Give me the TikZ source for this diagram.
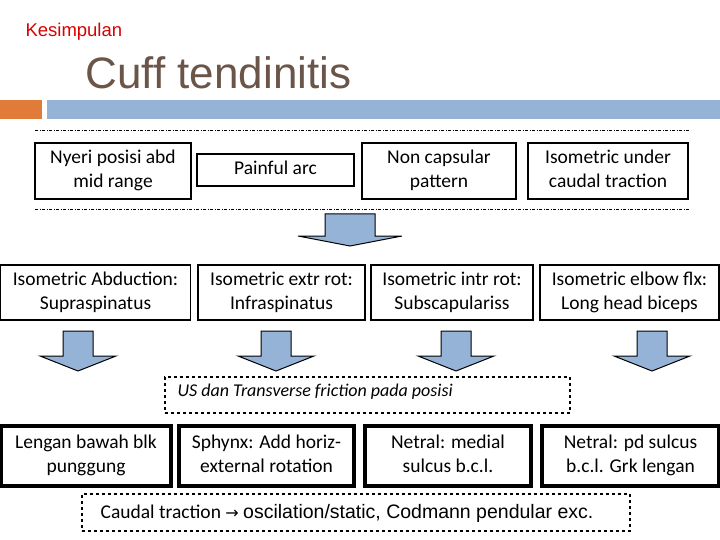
\documentclass[tikz,border=0pt]{standalone}
\usepackage{fontspec}
\setmainfont{Carlito}
\newfontfamily\arial{Liberation Sans}
\newfontfamily\dejavu{DejaVu Sans}
\begin{document}
\begin{tikzpicture}[x=1pt,y=-1pt,
  box/.style={draw=black,line width=1.5pt,align=center,font=\fontsize{19.5}{24}\selectfont,inner sep=0pt},
  tbox/.style={draw=black,line width=4pt,align=center,font=\fontsize{19.5}{24}\selectfont,inner sep=0pt},
  dbox/.style={draw=black,dashed,line width=1.2pt,inner sep=0pt},
  dline/.style={draw=black,dash pattern=on 3pt off 1.5pt on 1pt off 1.5pt,line width=1pt}]
\definecolor{arrfill}{HTML}{95B3D7}
\definecolor{orng}{HTML}{E07B39}
\definecolor{titlec}{HTML}{6B5548}
\useasboundingbox (0,0) rectangle (720,540);
\fill[white] (0,0) rectangle (720,540);
\node[anchor=west,text=red!85!black,font=\arial\fontsize{18.5}{20}\selectfont] (kes) at (22,32) {Kesimpulan};
\node[anchor=west,text=titlec,font=\arial\fontsize{44}{48}\selectfont] (title) at (82,73) {Cuff tendinitis};
\fill[orng] (0,100) rectangle (42,119);
\fill[arrfill] (47,100) rectangle (720,119);
\coordinate (l1a) at (35,131); \coordinate (l1b) at (690,131);
\coordinate (l2a) at (35,210); \coordinate (l2b) at (690,210);
\draw[dline] (l1a) -- (l1b);
\draw[dline] (l2a) -- (l2b);
% row 1
\node[box,minimum width=156pt,minimum height=56pt] (a1) at (113,171) {\strut Nyeri posisi abd\\\strut mid range};
\node[box,minimum width=157pt,minimum height=32pt] (a2) at (275.5,170) {\strut Painful arc};
\node[box,minimum width=154pt,minimum height=56pt] (a3) at (439,171) {\strut Non capsular\\\strut pattern};
\node[box,minimum width=160pt,minimum height=56pt] (a4) at (608,171) {\strut Isometric under\\\strut caudal traction};
% big arrow
\draw[fill=arrfill,draw=black,line width=1pt] (325,214) -- (375,214) -- (375,236) -- (402,236) -- (350,246) -- (298,236) -- (325,236) -- cycle;
% row 2
\node[box,minimum width=190pt,minimum height=55pt] (b1) at (95.5,292.5) {\strut Isometric Abduction:\\\strut Supraspinatus};
\node[box,minimum width=167pt,minimum height=55pt] (b2) at (281.5,292.5) {\strut Isometric extr rot:\\\strut Infraspinatus};
\node[box,minimum width=162pt,minimum height=55pt] (b3) at (452,292.5) {\strut Isometric intr rot:\\\strut Subscapulariss};
\node[box,minimum width=179pt,minimum height=55pt] (b4) at (629.5,292.5) {\strut Isometric elbow flx:\\\strut Long head biceps};
% small arrows
\foreach \cx in {78,276,456,652}{
  \draw[fill=arrfill,draw=black,line width=1pt] (\cx-15,331) -- (\cx+15,331) -- (\cx+15,356) -- (\cx+38,356) -- (\cx,371) -- (\cx-38,356) -- (\cx-15,356) -- cycle;
}
\node[dbox,minimum width=405pt,minimum height=36pt] (us) at (367.5,395) {};
\node[anchor=west,font=\fontsize{18}{20}\selectfont\itshape] (ust) at (174,392) {US dan Transverse friction pada posisi};
% row 3
\node[tbox,minimum width=170pt,minimum height=60pt] (c1) at (86,456) {\strut Lengan bawah blk\\\strut punggung};
\node[tbox,minimum width=175pt,minimum height=60pt] (c2) at (266.5,456) {\strut Sphynx: Add horiz-\\\strut external rotation};
\node[tbox,minimum width=166pt,minimum height=60pt] (c3) at (448,456) {\strut Netral: medial\\\strut sulcus b.c.l.};
\node[tbox,minimum width=177pt,minimum height=60pt] (c4) at (630.5,456) {\strut Netral: pd sulcus\\\strut b.c.l. Grk lengan};
\node[dbox,minimum width=548pt,minimum height=37pt] (ct) at (356,512.5) {};
\node[font=\fontsize{19.5}{22}\selectfont] (ctt) at (347,513) {Caudal traction {\dejavu\fontsize{16}{18}\selectfont→} {\arial oscilation/static, Codmann pendular exc.}};
\end{tikzpicture}
\end{document}
